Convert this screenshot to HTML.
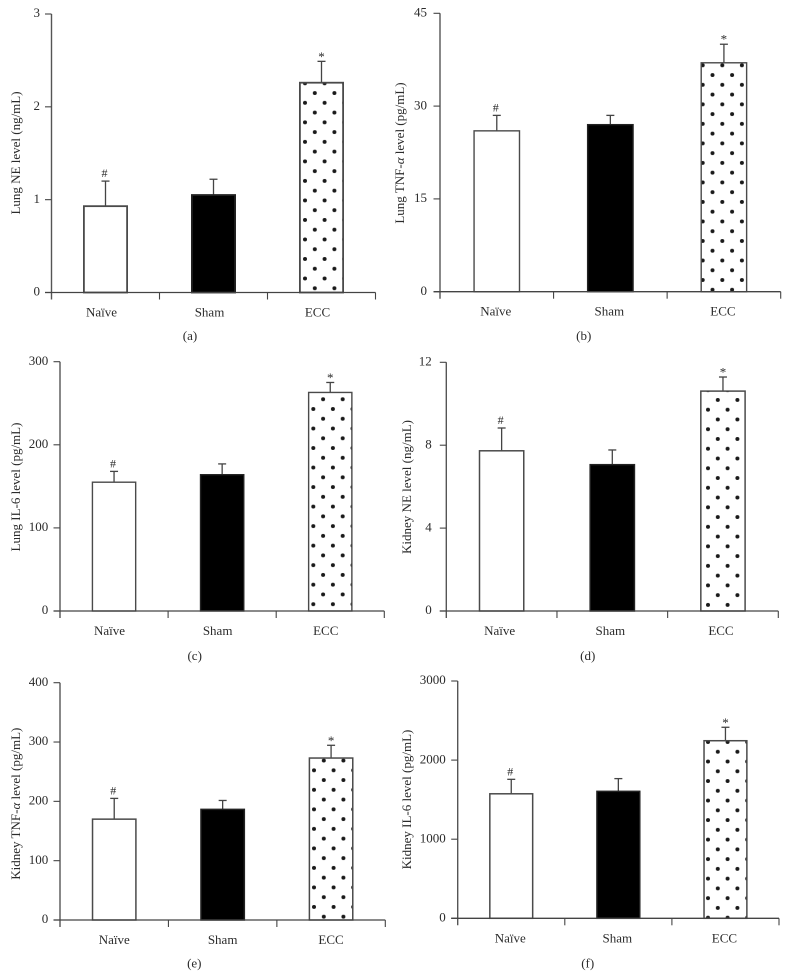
<!DOCTYPE html>
<html lang="en">
<head>
<meta charset="utf-8">
<title>Lung and kidney NE, TNF-α and IL-6 levels</title>
<style>
html,body{margin:0;padding:0;background:#fff;}
svg{display:block;}
text{font-family:"Liberation Serif",serif;fill:#2b2b2b;}
</style>
</head>
<body>
<svg id="figure" xmlns="http://www.w3.org/2000/svg" width="789" height="978" viewBox="0 0 789 978">
<defs id="defs"></defs>
<rect width="789" height="978" fill="#fff"></rect>
</svg>
<script>
const categories = ['Naïve', 'Sham', 'ECC'];
const markers = ['#', '', '*'];

const lungNeValues = [0.93, 1.05, 2.26];
const lungNeErrors = [0.27, 0.17, 0.23];
const lungNeTicks = [0, 1, 2, 3];

const lungTnfValues = [26, 27, 37];
const lungTnfErrors = [2.5, 1.5, 3];
const lungTnfTicks = [0, 15, 30, 45];

const lungIl6Values = [155, 164, 263];
const lungIl6Errors = [13, 13, 12];
const lungIl6Ticks = [0, 100, 200, 300];

const kidneyNeValues = [7.73, 7.06, 10.61];
const kidneyNeErrors = [1.1, 0.71, 0.68];
const kidneyNeTicks = [0, 4, 8, 12];

const kidneyTnfValues = [170, 186.5, 273];
const kidneyTnfErrors = [35, 15, 21.5];
const kidneyTnfTicks = [0, 100, 200, 300, 400];

const kidneyIl6Values = [1574, 1605, 2245];
const kidneyIl6Errors = [183, 161, 170];
const kidneyIl6Ticks = [0, 1000, 2000, 3000];

const NS = 'http://www.w3.org/2000/svg';
const svg = document.getElementById('figure');
const defs = document.getElementById('defs');

function svgEl(tag, attrs, parent) {
  const el = document.createElementNS(NS, tag);
  for (const k in attrs) el.setAttribute(k, attrs[k]);
  parent.appendChild(el);
  return el;
}

function drawPanel(id, title, caption, values, errors, ticks, frame) {
  const yScale = v => frame.bottom - (v / ticks[ticks.length - 1]) * (frame.bottom - frame.top);
  const band = (frame.right - frame.left) / categories.length;
  const barLeft = i => frame.left + band * (i + 0.3);
  const barWidth = band * 0.4;

  const g = svgEl('g', {}, svg);
  
  

  const pattern = svgEl('pattern', {
    id: 'dots-' + id, patternUnits: 'userSpaceOnUse', width: 19.6, height: 19.52,
    patternTransform: 'translate(' + frame.dotX + ' ' + frame.dotY + ')'
  }, defs);
  svgEl('rect', {width: 19.6, height: 19.52, fill: '#fff'}, pattern);
  [[0, 0], [9.8, 9.76], [19.6, 0], [0, 19.52], [19.6, 19.52]].forEach(p => {
    svgEl('circle', {cx: p[0], cy: p[1], r: 2, fill: '#1a1a1a'}, pattern);
  });

  values.forEach((value, i) => {
    const cx = barLeft(i) + barWidth / 2;
    const topY = yScale(value + errors[i]);

    const stem = svgEl('line', {x1: cx, x2: cx, y1: topY, y2: yScale(value), stroke: '#444', 'stroke-width': 1.3}, g);
    
    

    const cap = svgEl('line', {x1: cx - 4, x2: cx + 4, y1: topY, y2: topY, stroke: '#444', 'stroke-width': 1.3}, g);
    
    

    const fill = i === 0 ? '#fff' : i === 1 ? '#000' : 'url(#dots-' + id + ')';
    const bar = svgEl('rect', {
      x: barLeft(i), y: yScale(value), width: barWidth, height: frame.bottom - yScale(value),
      fill: fill, stroke: i === 1 ? '#222' : '#4a4a4a', 'stroke-width': frame.barStroke
    }, g);
    
    

    if (markers[i]) {
      const isStar = markers[i] === '*';
      const mark = svgEl('text', {
        x: cx - (isStar ? 0 : 1), y: topY - (isStar ? 0.5 : 4),
        'text-anchor': 'middle', 'font-size': isStar ? 13 : 12
      }, g);
      mark.textContent = markers[i];
      
      
    }

    const label = svgEl('text', {
      x: cx + frame.labelShift, y: frame.bottom + 24, 'text-anchor': 'middle', 'font-size': 13
    }, g);
    label.textContent = categories[i];
    
    
  });

  const yAxis = svgEl('line', {
    x1: frame.left, x2: frame.left, y1: frame.top, y2: frame.bottom + 7,
    stroke: '#555', 'stroke-width': 1.4
  }, g);
  
  

  const xAxis = svgEl('line', {
    x1: frame.left - 6.5, x2: frame.right, y1: frame.bottom, y2: frame.bottom,
    stroke: '#444', 'stroke-width': 1.3
  }, g);
  
  

  for (let i = 1; i <= categories.length; i++) {
    const tx = frame.left + band * i;
    const xTick = svgEl('line', {x1: tx, x2: tx, y1: frame.bottom, y2: frame.bottom + 7, stroke: '#444', 'stroke-width': 1.1}, g);
    
    
  }

  ticks.forEach((t, i) => {
    const ty = yScale(t);
    const yTick = svgEl('line', {x1: frame.left - 6.5, x2: frame.left, y1: ty, y2: ty, stroke: '#444', 'stroke-width': 1.1}, g);
    
    

    const tickLabel = svgEl('text', {
      x: frame.left - frame.tickGap, y: ty + 3.2, 'text-anchor': 'end', 'font-size': 13
    }, g);
    tickLabel.textContent = String(t);
    
    
  });

  const yTitle = svgEl('text', {
    transform: 'translate(' + frame.titleX + ' ' + frame.titleY + ') rotate(-90)',
    'text-anchor': 'middle', 'font-size': 13
  }, g);
  title.forEach(part => {
    const span = svgEl('tspan', part.italic ? {'font-style': 'italic'} : {}, yTitle);
    span.textContent = part.text;
  });
  
  

  const cap = svgEl('text', {x: frame.captionX, y: frame.captionY, 'text-anchor': 'middle', 'font-size': 13}, g);
  cap.textContent = caption;
  
  
}

drawPanel('a', [{text: 'Lung NE level (ng/mL)'}], '(a)', lungNeValues, lungNeErrors, lungNeTicks,
  {left: 51.5, right: 375.5, top: 14, bottom: 292.5, dotX: 305, dotY: 83.3, labelShift: -4, tickGap: 11.5, barStroke: 1.8, titleX: 20, titleY: 153, captionX: 190, captionY: 340});
drawPanel('b', [{text: 'Lung TNF-'}, {text: 'α', italic: true}, {text: ' level (pg/mL)'}], '(b)', lungTnfValues, lungTnfErrors, lungTnfTicks,
  {left: 440, right: 780.7, top: 13.3, bottom: 291.7, dotX: 702.7, dotY: 65.3, labelShift: -1, tickGap: 13, barStroke: 1.4, titleX: 404, titleY: 153, captionX: 583.7, captionY: 340});
drawPanel('c', [{text: 'Lung IL-6 level (pg/mL)'}], '(c)', lungIl6Values, lungIl6Errors, lungIl6Ticks,
  {left: 60, right: 384.3, top: 361.7, bottom: 611, dotX: 313.3, dotY: 409, labelShift: -4.5, tickGap: 11.7, barStroke: 1.4, titleX: 20, titleY: 487, captionX: 194.7, captionY: 660});
drawPanel('d', [{text: 'Kidney NE level (ng/mL)'}], '(d)', kidneyNeValues, kidneyNeErrors, kidneyNeTicks,
  {left: 446.3, right: 778.3, top: 362.3, bottom: 611, dotX: 708, dotY: 409.7, labelShift: -2, tickGap: 14.5, barStroke: 1.5, titleX: 411, titleY: 487, captionX: 587.7, captionY: 660});
drawPanel('e', [{text: 'Kidney TNF-'}, {text: 'α', italic: true}, {text: ' level (pg/mL)'}], '(e)', kidneyTnfValues, kidneyTnfErrors, kidneyTnfTicks,
  {left: 60, right: 385.3, top: 682.7, bottom: 920, dotX: 314, dotY: 770.3, labelShift: 0, tickGap: 11.7, barStroke: 1.5, titleX: 20, titleY: 803.7, captionX: 194.3, captionY: 967.7});
drawPanel('f', [{text: 'Kidney IL-6 level (pg/mL)'}], '(f)', kidneyIl6Values, kidneyIl6Errors, kidneyIl6Ticks,
  {left: 457.7, right: 779, top: 681, bottom: 918.3, dotX: 708, dotY: 742, labelShift: -1, tickGap: 12, barStroke: 1.5, titleX: 411, titleY: 799.5, captionX: 587.7, captionY: 967.7});
</script>
</body>
</html>
